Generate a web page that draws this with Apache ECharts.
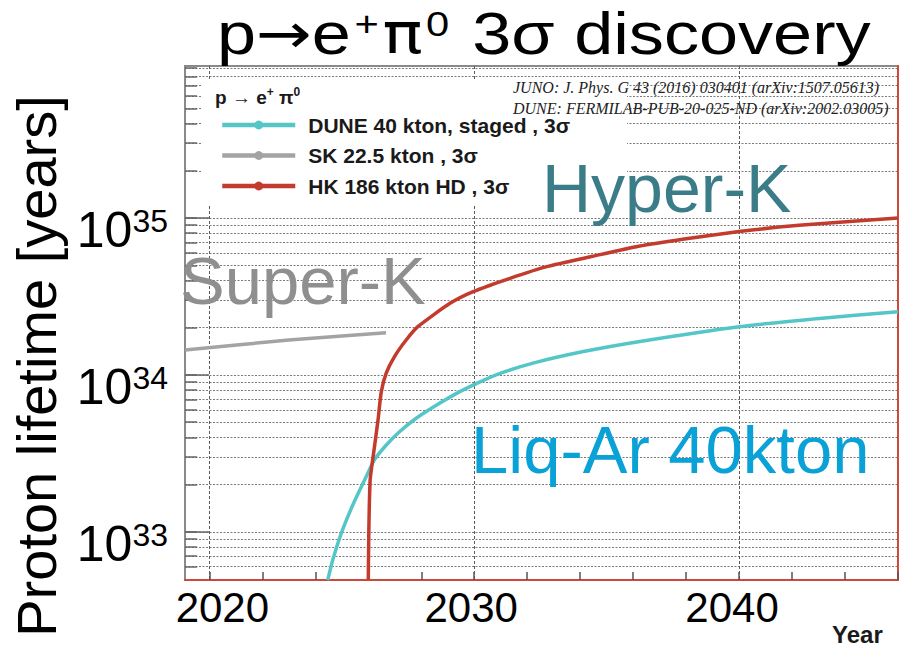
<!DOCTYPE html>
<html>
<head>
<meta charset="utf-8">
<script src="https://cdn.jsdelivr.net/npm/echarts@6/dist/echarts.min.js"></script>
<style>
html,body{margin:0;padding:0;background:#fff;}
#chart{width:903px;height:649px;}
</style>
</head>
<body>
<div id="chart"></div>
<script>
// ---- data ----
const seriesNames = ['DUNE 40 kton, staged , 3σ', 'SK 22.5 kton , 3σ', 'HK 186 kton HD , 3σ'];

const duneYears    = [2024.47, 2024.66, 2024.98, 2025.42, 2025.86, 2026.23, 2026.68, 2027.18, 2027.81, 2028.69, 2029.44, 2030.2, 2030.95, 2032.22, 2034.12, 2036.2, 2040.0, 2043.13, 2046.0];
const duneLifetime = [4.94e32, 6.64e32, 9.8e32, 1.49e33, 2.14e33, 2.88e33, 3.58e33, 4.35e33, 5.3e33, 6.6e33, 7.8e33, 9.0e33, 1.02e34, 1.19e34, 1.41e34, 1.63e34, 2.03e34, 2.3e34, 2.53e34];

const skYears    = [2019.08, 2023.0, 2026.67];
const skLifetime = [1.44e34, 1.67e34, 1.86e34];

const hkYears    = [2026.0, 2026.02, 2026.07, 2026.2, 2026.37, 2026.49, 2026.68, 2026.99, 2027.43, 2027.87, 2029.1, 2029.96, 2031.35, 2032.74, 2034.47, 2036.2, 2037.93, 2040.0, 2042.26, 2046.0];
const hkLifetime = [4.94e32, 1.0e33, 2.14e33, 3.17e33, 5.2e33, 7.8e33, 1.03e34, 1.31e34, 1.67e34, 2.03e34, 2.87e34, 3.4e34, 4.13e34, 4.9e34, 5.7e34, 6.6e34, 7.35e34, 8.2e34, 9.0e34, 1.0e35];

const xLabelYears = [2020, 2030, 2040];
const xTickYears  = [2020, 2022, 2024, 2026, 2028, 2030, 2032, 2034, 2036, 2038, 2040, 2042, 2044, 2046];
const yLabelValues = [1e33, 1e34, 1e35];
const yGridValues = [6e32, 7e32, 8e32, 9e32,
  1e33, 2e33, 3e33, 4e33, 5e33, 6e33, 7e33, 8e33, 9e33,
  1e34, 2e34, 3e34, 4e34, 5e34, 6e34, 7e34, 8e34, 9e34,
  1e35, 2e35, 3e35, 4e35, 5e35, 6e35, 7e35, 8e35, 9e35];

const X_MIN = 2019.08, X_MAX = 2046;
const Y_MIN = 4.94e32, Y_MAX = 9.3e35;

// ---- styles ----
const FONT = 'Liberation Sans, Arial, sans-serif';
const C_DUNE = '#55c6c8', C_SK = '#a3a3a3', C_HK = '#c23b2c';

const chart = echarts.init(document.getElementById('chart'), null, {renderer: 'svg'});

const pairs = (xs, ys) => xs.map((x, i) => [x, ys[i]]);

const xLabelRich = {
  x2020: {fontFamily: FONT, fontSize: 42, color: '#000', padding: [0, 0, 0, 26]},
  x2030: {fontFamily: FONT, fontSize: 42, color: '#000', padding: [0, 6, 0, 0]},
  x2040: {fontFamily: FONT, fontSize: 42, color: '#000', padding: [0, 14, 0, 0]}
};

const option = {
  animation: false,
  backgroundColor: '#fff',
  grid: {left: 185, right: 5, top: 66, bottom: 69, show: true, borderColor: '#8a8a8a', borderWidth: 2, backgroundColor: 'transparent'},
  legend: {
    orient: 'vertical', left: 201, top: 80,
    padding: [33, 57, 6, 19],
    backgroundColor: '#fff',
    itemWidth: 73, itemHeight: 11, itemGap: 6.5,
    lineStyle: {width: 4.5},
    textStyle: {fontFamily: FONT, fontWeight: 'bold', fontSize: 21, color: '#1a1a1a', lineHeight: 24, padding: [0, 0, 0, 8]},
    data: seriesNames,
    selectedMode: false
  },
  xAxis: [
    {
      type: 'value', min: X_MIN, max: X_MAX, position: 'bottom',
      axisLine: {show: true, onZero: false, lineStyle: {color: '#cc4a3c', width: 2}},
      axisTick: {show: true, inside: true, length: 8, customValues: xTickYears, lineStyle: {color: '#555', width: 1.5}},
      axisLabel: {show: true, customValues: xLabelYears, margin: 6,
        formatter: v => '{x' + v + '|' + v + '}', rich: xLabelRich},
      splitLine: {show: false}
    },
    {
      type: 'value', min: X_MIN, max: X_MAX, position: 'bottom', offset: 0,
      axisLine: {show: false},
      axisTick: {show: false, customValues: xLabelYears},
      axisLabel: {show: false},
      splitLine: {show: true, lineStyle: {color: '#5a5a5a', type: [3, 2], width: 1}}
    }
  ],
  yAxis: [
    {
      type: 'log', logBase: 10, min: Y_MIN, max: Y_MAX, position: 'left',
      axisLine: {show: true, lineStyle: {color: '#8a8a8a', width: 2}},
      axisTick: {show: true, inside: true, length: 12, customValues: yGridValues, lineStyle: {color: '#666', width: 1.5}},
      axisLabel: {show: false},
      splitLine: {show: true, lineStyle: {color: '#7a7a7a', type: [2, 1.5], width: 1}},
      minorTick: {show: false}, minorSplitLine: {show: false}
    },
    {
      type: 'log', logBase: 10, min: Y_MIN, max: Y_MAX, position: 'left', offset: 0,
      axisLine: {show: false},
      axisTick: {show: true, inside: true, length: 24, customValues: yLabelValues, lineStyle: {color: '#666', width: 1.5}},
      axisLabel: {show: true, customValues: yLabelValues, margin: 17, padding: [24, 0, 0, 0],
        formatter: v => '{b|10}{s|' + Math.round(Math.log10(v)) + '}',
        rich: {
          b: {fontFamily: FONT, fontSize: 50, lineHeight: 50, color: '#000'},
          s: {fontFamily: FONT, fontSize: 32, lineHeight: 32, color: '#000', verticalAlign: 'top'}
        }},
      splitLine: {show: false}
    },
    {
      type: 'value', min: 0, max: 1, position: 'right',
      axisLine: {show: true, lineStyle: {color: '#cc4a3c', width: 2}},
      axisTick: {show: false}, axisLabel: {show: false}, splitLine: {show: false}
    }
  ],
  series: [
    {
      type: 'line', name: seriesNames[0], data: pairs(duneYears, duneLifetime),
      xAxisIndex: 0, yAxisIndex: 0, symbol: 'circle', showSymbol: false,
      smooth: 0.2, clip: true,
      lineStyle: {color: C_DUNE, width: 3.5}, itemStyle: {color: C_DUNE}, z: 3
    },
    {
      type: 'line', name: seriesNames[1], data: pairs(skYears, skLifetime),
      xAxisIndex: 0, yAxisIndex: 0, symbol: 'circle', showSymbol: false,
      smooth: 0.2, clip: true,
      lineStyle: {color: C_SK, width: 3.5}, itemStyle: {color: C_SK}, z: 3
    },
    {
      type: 'line', name: seriesNames[2], data: pairs(hkYears, hkLifetime),
      xAxisIndex: 0, yAxisIndex: 0, symbol: 'circle', showSymbol: false,
      smooth: 0.2, clip: true,
      lineStyle: {color: C_HK, width: 3.5}, itemStyle: {color: C_HK}, z: 4
    }
  ],
  graphic: [
    { // title
      type: 'text', x: 217, y: 34, scaleX: 1.19, z: 10,
      style: {
        text: '{n|p}{a|→}{n|e}{s|+}{q|π}{s|0}{n| 3σ discovery}',
        verticalAlign: 'middle', align: 'left',
        rich: {
          n: {fontFamily: FONT, fontSize: 59, lineHeight: 59, fill: '#000'},
          a: {fontFamily: 'DejaVu Sans', fontSize: 56, lineHeight: 59, fill: '#000'},
          q: {fontFamily: 'DejaVu Sans', fontSize: 56, lineHeight: 59, fill: '#000'},
          s: {fontFamily: FONT, fontSize: 35, lineHeight: 35, fill: '#000', verticalAlign: 'top', padding: [2, 3, 0, 3]}
        }
      }
    },
    { // y-axis title
      type: 'text', x: 36, y: 366, rotation: Math.PI / 2, z: 10,
      style: {text: 'Proton lifetime [years]', fontFamily: FONT, fontSize: 56, fill: '#000', align: 'center', verticalAlign: 'middle'}
    },
    { // x-axis title
      type: 'text', x: 832, y: 634, z: 10,
      style: {text: 'Year', fontFamily: FONT, fontWeight: 'bold', fontSize: 24, fill: '#1a1a1a', align: 'left', verticalAlign: 'middle'}
    },
    { // legend header
      type: 'text', x: 215, y: 97, z: 20,
      style: {
        text: '{n|p → e}{s|+}{n| π}{s|0}',
        verticalAlign: 'middle', align: 'left',
        rich: {
          n: {fontFamily: FONT, fontWeight: 'bold', fontSize: 19, lineHeight: 22, fill: '#1a1a1a'},
          s: {fontFamily: FONT, fontWeight: 'bold', fontSize: 12, lineHeight: 12, fill: '#1a1a1a', verticalAlign: 'top'}
        }
      }
    },
    { // references
      type: 'text', x: 513, y: 87, z: 10,
      style: {text: 'JUNO: J. Phys. G 43 (2016) 030401 (arXiv:1507.05613)', fontFamily: 'Liberation Serif, serif', fontStyle: 'italic', fontSize: 16, fill: '#222', align: 'left', verticalAlign: 'middle'}
    },
    {
      type: 'text', x: 513, y: 108, z: 10,
      style: {text: 'DUNE: FERMILAB-PUB-20-025-ND (arXiv:2002.03005)', fontFamily: 'Liberation Serif, serif', fontStyle: 'italic', fontSize: 16, fill: '#222', align: 'left', verticalAlign: 'middle'}
    },
    { // annotations
      type: 'text', x: 180, y: 280, z: 10,
      style: {text: 'Super-K', fontFamily: FONT, fontSize: 67, fill: '#8f8f8f', align: 'left', verticalAlign: 'middle'}
    },
    {
      type: 'text', x: 542, y: 188, z: 10,
      style: {text: 'Hyper-K', fontFamily: FONT, fontSize: 68, fill: '#3a7c88', align: 'left', verticalAlign: 'middle'}
    },
    {
      type: 'text', x: 471, y: 449, z: 10,
      style: {text: 'Liq-Ar 40kton', fontFamily: FONT, fontSize: 67, fill: '#0aa2d6', align: 'left', verticalAlign: 'middle'}
    }
  ]
};

chart.setOption(option);
</script>
</body>
</html>
